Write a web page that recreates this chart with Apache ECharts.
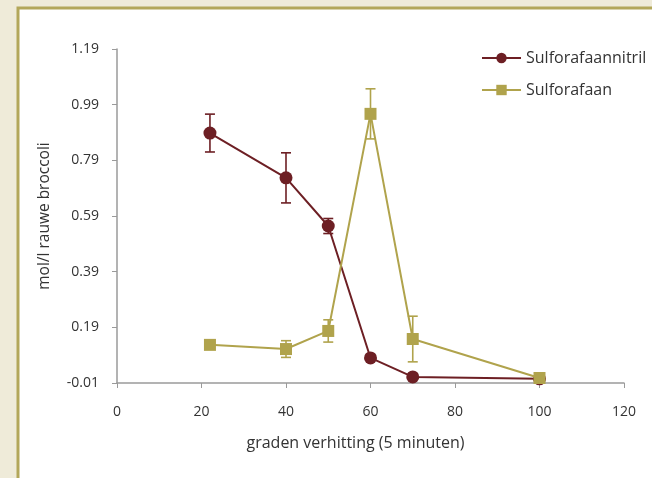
<!DOCTYPE html>
<html>
<head>
<meta charset="utf-8">
<script src="https://cdn.jsdelivr.net/npm/echarts@6/dist/echarts.min.js"></script>
<style>
html,body{margin:0;padding:0;background:#efebd9;}
#chart{width:652px;height:478px;}
</style>
</head>
<body>
<div id="chart"></div>
<script>
// Data
const xValues = [22, 40, 50, 60, 70, 100];
const nitrilValues = [0.888, 0.727, 0.554, 0.08, 0.012, 0.005];
const nitrilErrors = [0.068, 0.09, 0.027, 0, 0, 0];
const sulfoValues = [0.127, 0.112, 0.177, 0.957, 0.148, 0.008];
const sulfoErrors = [0, 0.03, 0.04, 0.09, 0.082, 0];
const seriesNames = ['Sulforafaannitril', 'Sulforafaan'];
const yTickOffset = 0.01; // axis labels run -0.01, 0.19, ... 1.19

const RED = '#6d1f24';
const OLIVE = '#b0a34c';
const FONT = 'Open Sans';
const TXT = '#333333';

function pts(vals) {
  return xValues.map((x, i) => [x, vals[i] + yTickOffset]);
}
function errData(vals, errs) {
  return xValues.map((x, i) => [x, vals[i] + yTickOffset, errs[i]]).filter(d => d[2] > 0);
}
function errSeries(vals, errs, color) {
  return {
    type: 'custom',
    data: errData(vals, errs),
    z: 1,
    silent: true,
    renderItem: function (params, api) {
      const x = api.value(0), y = api.value(1), e = api.value(2);
      const top = api.coord([x, y + e]);
      const bot = api.coord([x, y - e]);
      const hw = 5;
      const st = { stroke: color, lineWidth: 1.6 };
      return {
        type: 'group',
        children: [
          { type: 'line', shape: { x1: top[0], y1: top[1], x2: bot[0], y2: bot[1] }, style: st },
          { type: 'line', shape: { x1: top[0] - hw, y1: top[1], x2: top[0] + hw, y2: top[1] }, style: st },
          { type: 'line', shape: { x1: bot[0] - hw, y1: bot[1], x2: bot[0] + hw, y2: bot[1] }, style: st }
        ]
      };
    }
  };
}

const chart = echarts.init(document.getElementById('chart'), null, { renderer: 'canvas' });
chart.setOption({
  backgroundColor: '#efebd9',
  animation: false,
  graphic: [{
    type: 'rect',
    shape: { x: 18, y: 8, width: 700, height: 560 },
    style: { fill: '#ffffff', stroke: '#b3a75a', lineWidth: 3 },
    z: -10,
    silent: true
  }],
  grid: { left: 117, right: 28, top: 49, bottom: 95 },
  legend: {
    orient: 'vertical',
    left: 476,
    top: 45,
    itemWidth: 39,
    itemHeight: 13,
    itemGap: 16,
    data: seriesNames,
    textStyle: { fontFamily: FONT, fontSize: 16, color: TXT, lineHeight: 14 }
  },
  xAxis: {
    type: 'value',
    min: 0, max: 120, interval: 20,
    name: 'graden verhitting (5 minuten)',
    nameLocation: 'middle',
    nameGap: 52,
    nameTextStyle: { fontFamily: FONT, fontSize: 16, color: TXT, padding: [0, 30, 0, 0] },
    axisLine: { lineStyle: { color: '#9a9a9a', width: 1.5 } },
    axisTick: { show: true, length: 5, lineStyle: { color: '#9a9a9a' } },
    axisLabel: { margin: 22, fontFamily: FONT, fontSize: 14, color: TXT },
    splitLine: { show: false }
  },
  yAxis: {
    type: 'value',
    min: 0, max: 1.2, interval: 0.2,
    name: 'mol/l rauwe broccoli',
    nameLocation: 'middle',
    nameGap: 64,
    nameTextStyle: { fontFamily: FONT, fontSize: 15.5, color: TXT },
    axisLine: { show: true, lineStyle: { color: '#9a9a9a', width: 1.5 } },
    axisTick: { show: true, length: 5, lineStyle: { color: '#9a9a9a' } },
    axisLabel: {
      margin: 18, fontFamily: FONT, fontSize: 14, color: TXT,
      formatter: v => (v - yTickOffset).toFixed(2)
    },
    splitLine: { show: false }
  },
  series: [
    errSeries(nitrilValues, nitrilErrors, RED),
    errSeries(sulfoValues, sulfoErrors, OLIVE),
    {
      name: seriesNames[0],
      type: 'line',
      data: pts(nitrilValues),
      symbol: 'circle',
      symbolSize: 13,
      showAllSymbol: true,
      z: 3,
      itemStyle: { color: RED },
      lineStyle: { color: RED, width: 2 }
    },
    {
      name: seriesNames[1],
      type: 'line',
      data: pts(sulfoValues),
      symbol: 'rect',
      symbolSize: 12,
      showAllSymbol: true,
      z: 4,
      itemStyle: { color: OLIVE },
      lineStyle: { color: OLIVE, width: 2 }
    }
  ]
});
</script>
</body>
</html>
